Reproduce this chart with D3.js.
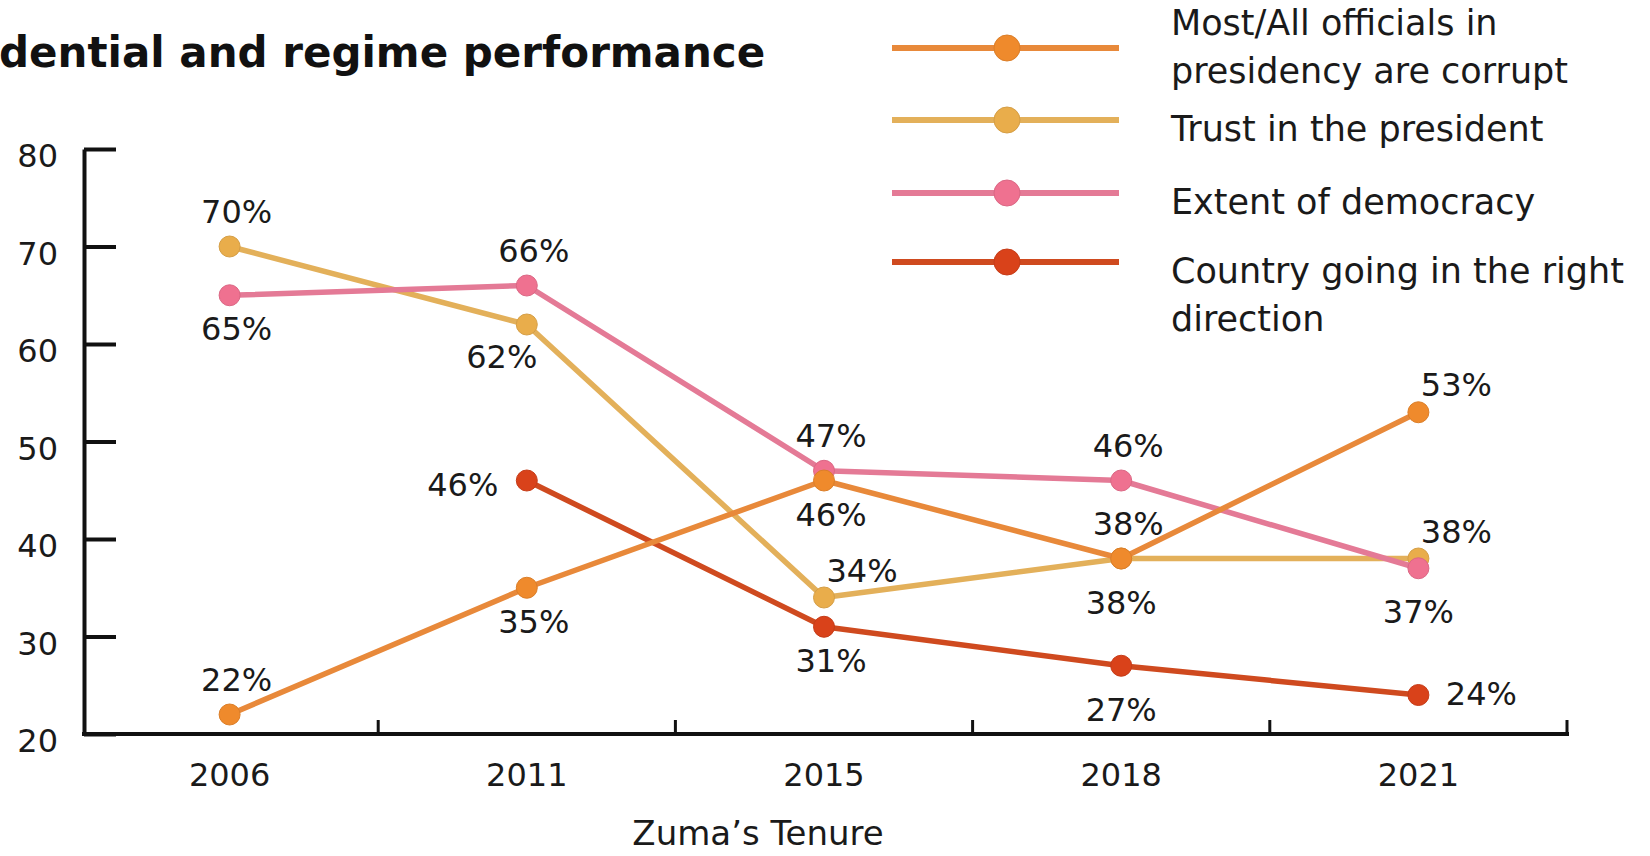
<!DOCTYPE html>
<html>
<head>
<meta charset="utf-8">
<script src="https://cdn.jsdelivr.net/npm/d3@7"></script>
<style>
  html, body { margin: 0; padding: 0; background: #fff; }
  svg { display: block; }
  text { font-family: "DejaVu Sans", sans-serif; fill: #1a1a1a; }
</style>
</head>
<body>
<svg id="chart" width="1650" height="856"></svg>
<script>
// Survey years (x categories)
const years = ["2006", "2011", "2015", "2018", "2021"];

// Series values, in percent (null = not asked that year)
const corruptValues   = [22, 35, 46, 38, 53];
const trustValues     = [70, 62, 34, 38, 38];
const democracyValues = [65, 66, 47, 46, 37];
const directionValues = [null, 46, 31, 27, 24];

// Where each value label sits relative to its point
const corruptPlace   = ["above", "below", "below", "above", "aboveRight"];
const trustPlace     = ["above", "belowLeft", "aboveRight", "belowFar", "aboveRight"];
const democracyPlace = ["below", "above", "above", "above", "belowFar"];
const directionPlace = [null, "left", "below", "belowFar", "right"];

// Y-axis tick labels
const yTicks = [20, 30, 40, 50, 60, 70, 80];

const titleText = "dential and regime performance";
const xTitle = "Zuma\u2019s Tenure";

const series = [
  { key: "direction", name: ["Country going in the right", "direction"], values: directionValues, place: directionPlace, line: "#cf4a1f", dot: "#d9421a" },
  { key: "trust",     name: ["Trust in the president"],                   values: trustValues,     place: trustPlace,     line: "#e3b05a", dot: "#e9ad4b" },
  { key: "democracy", name: ["Extent of democracy"],                      values: democracyValues, place: democracyPlace, line: "#e47a96", dot: "#ef7190" },
  { key: "corrupt",   name: ["Most/All officials in", "presidency are corrupt"], values: corruptValues, place: corruptPlace, line: "#e8893a", dot: "#ef8a2c" }
];
// Legend order, top to bottom
const legendOrder = ["corrupt", "trust", "democracy", "direction"];

const svg = d3.select("#chart");

const x = d3.scaleBand().domain(years).range([81, 1567]).paddingInner(0).paddingOuter(0);
const y = d3.scaleLinear().domain([20, 80]).range([734, 149]);
const cx = d => x(d) + x.bandwidth() / 2;

// Title
svg.append("text")
  .attr("x", -1).attr("y", 67)
  .attr("font-size", 42).attr("font-weight", 700)
  .style("fill", "#111")
  .text(titleText);

// Y axis: ticks point into the plot
const yAxis = d3.axisLeft(y).tickValues(yTicks).tickSizeInner(-32).tickSizeOuter(0).tickPadding(26);
const gy = svg.append("g").attr("transform", "translate(84,0)").call(yAxis);
gy.select(".domain").attr("stroke", "#111").attr("stroke-width", 4);
gy.selectAll(".tick line").attr("stroke", "#111").attr("stroke-width", 4);
gy.selectAll(".tick text")
  .attr("font-size", 32).attr("font-family", "DejaVu Sans").attr("fill", "#1a1a1a")
  .attr("dy", "0.55em");

// X axis: baseline with ticks at the band edges, labels at band centres
const gx = svg.append("g");
gx.append("line")
  .attr("x1", 82).attr("x2", x.range()[1] + 2)
  .attr("y1", y(20)).attr("y2", y(20))
  .attr("stroke", "#111").attr("stroke-width", 4);
gx.selectAll("line.xtick")
  .data(years.slice(1).map(d => x(d)).concat([x.range()[1]]))
  .join("line").attr("class", "xtick")
  .attr("x1", d => d).attr("x2", d => d)
  .attr("y1", y(20)).attr("y2", y(20) - 14)
  .attr("stroke", "#111").attr("stroke-width", 3);
gx.selectAll("text.xlab")
  .data(years).join("text").attr("class", "xlab")
  .attr("x", d => cx(d)).attr("y", 777)
  .attr("text-anchor", "middle").attr("dominant-baseline", "middle")
  .attr("font-size", 32)
  .text(d => d);

svg.append("text")
  .attr("x", 758).attr("y", 835)
  .attr("text-anchor", "middle").attr("dominant-baseline", "middle")
  .attr("font-size", 34)
  .text(xTitle);

// Lines and points
const lineGen = d3.line()
  .defined(d => d.v != null)
  .x(d => cx(d.year))
  .y(d => y(d.v));

const placeOffset = {
  above:      [7, -33],
  below:      [7, 36],
  belowFar:   [0, 46],
  left:       [-64, 6],
  right:      [63, 1],
  aboveRight: [38, -25],
  belowLeft:  [-25, 34]
};

series.forEach(s => {
  const pts = years.map((yr, i) => ({ year: yr, v: s.values[i], place: s.place[i] }));
  const g = svg.append("g").attr("class", "series-" + s.key);
  g.append("path")
    .datum(pts)
    .attr("d", lineGen)
    .attr("fill", "none")
    .attr("stroke", s.line)
    .attr("stroke-width", 5.5)
    .attr("stroke-linejoin", "round");
  g.selectAll("circle")
    .data(pts.filter(d => d.v != null))
    .join("circle")
    .attr("cx", d => cx(d.year))
    .attr("cy", d => y(d.v))
    .attr("r", 10.5)
    .attr("fill", s.dot)
    .attr("stroke", d3.color(s.dot).darker(0.25))
    .attr("stroke-width", 1);
});

// Value labels (drawn after all marks so they stay readable)
series.forEach(s => {
  const pts = years.map((yr, i) => ({ year: yr, v: s.values[i], place: s.place[i] })).filter(d => d.v != null);
  svg.append("g").selectAll("text")
    .data(pts).join("text")
    .attr("x", d => cx(d.year) + placeOffset[d.place][0])
    .attr("y", d => y(d.v) + placeOffset[d.place][1])
    .attr("text-anchor", "middle")
    .attr("dominant-baseline", "middle")
    .attr("font-size", 32)
    .text(d => d.v + "%");
});

// Legend
const legend = svg.append("g").attr("class", "legend");
const legendRowY = [48, 120, 193, 262];
legendOrder.forEach((key, i) => {
  const s = series.find(d => d.key === key);
  const ly = legendRowY[i];
  const g = legend.append("g");
  g.append("line")
    .attr("x1", 892).attr("x2", 1119)
    .attr("y1", ly).attr("y2", ly)
    .attr("stroke", s.line).attr("stroke-width", 6);
  g.append("circle")
    .attr("cx", 1007).attr("cy", ly).attr("r", 13)
    .attr("fill", s.dot)
    .attr("stroke", d3.color(s.dot).darker(0.25)).attr("stroke-width", 1);
  const firstY = s.name.length > 1 && i === 0 ? ly - 23 : ly + 11;
  s.name.forEach((line, j) => {
    g.append("text")
      .attr("x", 1171).attr("y", firstY + j * 48)
      .attr("dominant-baseline", "middle")
      .attr("font-size", 35)
      .text(line);
  });
});
</script>
</body>
</html>
